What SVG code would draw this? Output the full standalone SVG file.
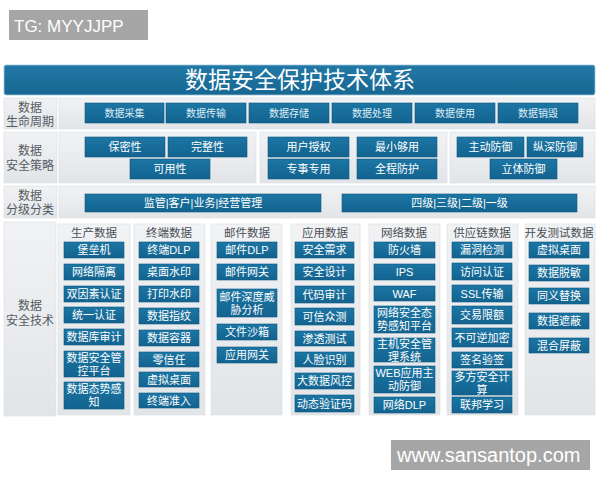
<svg xmlns="http://www.w3.org/2000/svg" width="600" height="480" viewBox="0 0 600 480">
<defs>
<linearGradient id="gPanel" x1="0" y1="0" x2="0" y2="1">
<stop offset="0" stop-color="#f1f2f4"/>
<stop offset="1" stop-color="#e2e5e8"/>
</linearGradient>
<linearGradient id="gBox" x1="0" y1="0" x2="0" y2="1">
<stop offset="0" stop-color="#1c76a4"/>
<stop offset="1" stop-color="#13638f"/>
</linearGradient>
<linearGradient id="gTitle" x1="0" y1="0" x2="0" y2="1">
<stop offset="0" stop-color="#2279a6"/>
<stop offset="1" stop-color="#176792"/>
</linearGradient>
</defs>
<style>
.cjk{font-family:"Liberation Sans","Noto Sans CJK SC",sans-serif}
.panel{fill:url(#gPanel);stroke:#d9dde1;stroke-width:0.6}
.box rect{fill:url(#gBox);stroke:#0e5781;stroke-width:0.6}
.box text{font-family:"Liberation Sans","Noto Sans CJK SC",sans-serif;font-size:11px;fill:#ffffff;text-anchor:middle;dominant-baseline:central}
.r1 text{font-size:10px;fill:#dfeef7}
.lbl{font-family:"Liberation Sans","Noto Sans CJK SC",sans-serif;font-size:12px;fill:#555b61;text-anchor:middle;dominant-baseline:central}
.hd{font-family:"Liberation Sans","Noto Sans CJK SC",sans-serif;font-size:11.5px;fill:#4a5056;text-anchor:middle;dominant-baseline:central}
.wm{fill:#a6a6a6}
.wmt{font-family:"Liberation Sans",Arial,sans-serif;fill:#ffffff}
</style>
<rect width="600" height="480" fill="#ffffff"/>

<g id="wm-tg">
<rect class="wm" x="9" y="10" width="139" height="30"/>
<text class="wmt" x="14" y="32" font-size="17">TG: MYYJJPP</text>
</g>

<g id="title">
<rect x="4" y="65" width="591" height="30" rx="2" fill="url(#gTitle)" stroke="#9cc7dc" stroke-width="0.8"/>
<text x="300" y="80" class="cjk" font-size="23" fill="#ffffff" text-anchor="middle" dominant-baseline="central">数据安全保护技术体系</text>
</g>

<!-- Row 1 -->
<g id="row-lifecycle">
<rect class="panel" x="4" y="98" width="53" height="31"/>
<text class="lbl" x="30" y="108"><tspan x="30">数据</tspan><tspan x="30" dy="14">生命周期</tspan></text>
<rect class="panel" x="59" y="98" width="536" height="31"/>
</g>
<g id="n-collect" class="box r1"><rect x="85" y="103" width="79" height="20"/><text x="124.5" y="113">数据采集</text></g>
<g id="n-transfer" class="box r1"><rect x="166" y="103" width="80" height="20"/><text x="206" y="113">数据传输</text></g>
<g id="n-storage" class="box r1"><rect x="249" y="103" width="80" height="20"/><text x="289" y="113">数据存储</text></g>
<g id="n-process" class="box r1"><rect x="332" y="103" width="80" height="20"/><text x="372" y="113">数据处理</text></g>
<g id="n-use" class="box r1"><rect x="415" y="103" width="80" height="20"/><text x="455" y="113">数据使用</text></g>
<g id="n-destroy" class="box r1"><rect x="498" y="103" width="80" height="20"/><text x="538" y="113">数据销毁</text></g>

<!-- Row 2 -->
<g id="row-strategy">
<rect class="panel" x="4" y="132" width="53" height="51"/>
<text class="lbl" x="30" y="151"><tspan x="30">数据</tspan><tspan x="30" dy="15">安全策略</tspan></text>
<rect class="panel" x="59" y="132" width="197" height="51"/>
<rect class="panel" x="260" y="132" width="187" height="51"/>
<rect class="panel" x="450" y="132" width="145" height="51"/>
</g>
<g id="n-conf" class="box"><rect x="85" y="137" width="80" height="20"/><text x="125" y="147">保密性</text></g>
<g id="n-integ" class="box"><rect x="168" y="137" width="79" height="20"/><text x="207.5" y="147">完整性</text></g>
<g id="n-avail" class="box"><rect x="130" y="159" width="80" height="20"/><text x="170" y="169">可用性</text></g>
<g id="n-auth" class="box"><rect x="268" y="137" width="81" height="20"/><text x="308.5" y="147">用户授权</text></g>
<g id="n-least" class="box"><rect x="357" y="137" width="80" height="20"/><text x="397" y="147">最小够用</text></g>
<g id="n-dedicated" class="box"><rect x="268" y="159" width="81" height="20"/><text x="308.5" y="169">专事专用</text></g>
<g id="n-whole" class="box"><rect x="357" y="159" width="80" height="20"/><text x="397" y="169">全程防护</text></g>
<g id="n-active" class="box"><rect x="457" y="137" width="67" height="20"/><text x="490.5" y="147">主动防御</text></g>
<g id="n-depth" class="box"><rect x="527" y="137" width="56" height="20"/><text x="555" y="147">纵深防御</text></g>
<g id="n-3d" class="box"><rect x="490" y="159" width="67" height="20"/><text x="523.5" y="169">立体防御</text></g>

<!-- Row 3 -->
<g id="row-class">
<rect class="panel" x="4" y="186" width="53" height="32"/>
<text class="lbl" x="30" y="196"><tspan x="30">数据</tspan><tspan x="30" dy="14">分级分类</tspan></text>
<rect class="panel" x="59" y="186" width="536" height="32"/>
</g>
<g id="n-scope" class="box"><rect x="85" y="194" width="236" height="18"/><text x="203" y="203">监管|客户|业务|经营管理</text></g>
<g id="n-levels" class="box"><rect x="342" y="194" width="235" height="18"/><text x="459.5" y="203">四级|三级|二级|一级</text></g>

<!-- Row 4 -->
<g id="row-tech">
<rect class="panel" x="4" y="222" width="52" height="194"/>
<text class="lbl" x="30" y="306"><tspan x="30">数据</tspan><tspan x="30" dy="15">安全技术</tspan></text>
</g>

<g id="col-prod">
<rect class="panel" x="58" y="224" width="72" height="191"/>
<text class="hd" x="94" y="233">生产数据</text>
</g>
<g id="n-bastion" class="box"><rect x="64" y="242" width="60" height="16"/><text x="94" y="250">堡垒机</text></g>
<g id="n-netiso" class="box"><rect x="64" y="264" width="60" height="16"/><text x="94" y="272">网络隔离</text></g>
<g id="n-2fa" class="box"><rect x="64" y="286" width="60" height="16"/><text x="94" y="294">双因素认证</text></g>
<g id="n-sso" class="box"><rect x="64" y="307" width="60" height="16"/><text x="94" y="315">统一认证</text></g>
<g id="n-dbaudit" class="box"><rect x="64" y="329" width="60" height="16"/><text x="94" y="337">数据库审计</text></g>
<g id="n-dsmp" class="box"><rect x="64" y="351" width="60" height="26"/><text x="94" y="358"><tspan x="94">数据安全管</tspan><tspan x="94" dy="13">控平台</tspan></text></g>
<g id="n-dsa" class="box"><rect x="64" y="382" width="60" height="27"/><text x="94" y="389"><tspan x="94">数据态势感</tspan><tspan x="94" dy="13">知</tspan></text></g>

<g id="col-term">
<rect class="panel" x="134" y="224" width="71" height="191"/>
<text class="hd" x="169" y="233">终端数据</text>
</g>
<g id="n-tdlp" class="box"><rect x="139" y="242" width="60" height="16"/><text x="169" y="250">终端DLP</text></g>
<g id="n-dwm" class="box"><rect x="139" y="264" width="60" height="16"/><text x="169" y="272">桌面水印</text></g>
<g id="n-pwm" class="box"><rect x="139" y="286" width="60" height="16"/><text x="169" y="294">打印水印</text></g>
<g id="n-fp" class="box"><rect x="139" y="308" width="60" height="16"/><text x="169" y="316">数据指纹</text></g>
<g id="n-container" class="box"><rect x="139" y="330" width="60" height="16"/><text x="169" y="338">数据容器</text></g>
<g id="n-zt" class="box"><rect x="139" y="352" width="60" height="15"/><text x="169" y="359.5">零信任</text></g>
<g id="n-vd1" class="box"><rect x="139" y="372" width="60" height="15"/><text x="169" y="379.5">虚拟桌面</text></g>
<g id="n-nac" class="box"><rect x="139" y="393" width="60" height="15"/><text x="169" y="400.5">终端准入</text></g>

<g id="col-mail">
<rect class="panel" x="211" y="224" width="71" height="191"/>
<text class="hd" x="247" y="233">邮件数据</text>
</g>
<g id="n-mdlp" class="box"><rect x="217" y="242" width="60" height="16"/><text x="247" y="250">邮件DLP</text></g>
<g id="n-mgw" class="box"><rect x="217" y="264" width="60" height="16"/><text x="247" y="272">邮件网关</text></g>
<g id="n-mdta" class="box"><rect x="217" y="289" width="60" height="28"/><text x="247" y="297"><tspan x="247">邮件深度威</tspan><tspan x="247" dy="13">胁分析</tspan></text></g>
<g id="n-sandbox" class="box"><rect x="217" y="324" width="60" height="16"/><text x="247" y="332">文件沙箱</text></g>
<g id="n-agw" class="box"><rect x="217" y="347" width="60" height="16"/><text x="247" y="355">应用网关</text></g>

<g id="col-app">
<rect class="panel" x="291" y="224" width="69" height="191"/>
<text class="hd" x="325" y="233">应用数据</text>
</g>
<g id="n-req" class="box"><rect x="295" y="242" width="59" height="16"/><text x="324.5" y="250">安全需求</text></g>
<g id="n-design" class="box"><rect x="295" y="264" width="59" height="16"/><text x="324.5" y="272">安全设计</text></g>
<g id="n-codeaudit" class="box"><rect x="295" y="286" width="59" height="17"/><text x="324.5" y="294.5">代码审计</text></g>
<g id="n-crowd" class="box"><rect x="295" y="308" width="59" height="17"/><text x="324.5" y="316.5">可信众测</text></g>
<g id="n-pentest" class="box"><rect x="295" y="331" width="59" height="15"/><text x="324.5" y="338.5">渗透测试</text></g>
<g id="n-face" class="box"><rect x="295" y="352" width="59" height="15"/><text x="324.5" y="359.5">人脸识别</text></g>
<g id="n-bigrisk" class="box"><rect x="295" y="373" width="59" height="16"/><text x="324.5" y="381">大数据风控</text></g>
<g id="n-otp" class="box"><rect x="295" y="395" width="59" height="17"/><text x="324.5" y="403.5">动态验证码</text></g>

<g id="col-net">
<rect class="panel" x="369" y="224" width="71" height="191"/>
<text class="hd" x="404" y="233">网络数据</text>
</g>
<g id="n-fw" class="box"><rect x="374" y="242" width="61" height="16"/><text x="404.5" y="250">防火墙</text></g>
<g id="n-ips" class="box"><rect x="374" y="264" width="61" height="16"/><text x="404.5" y="272">IPS</text></g>
<g id="n-waf" class="box"><rect x="374" y="286" width="61" height="15"/><text x="404.5" y="293.5">WAF</text></g>
<g id="n-nsa" class="box"><rect x="374" y="306" width="61" height="27"/><text x="404.5" y="313"><tspan x="404.5">网络安全态</tspan><tspan x="404.5" dy="13">势感知平台</tspan></text></g>
<g id="n-hids" class="box"><rect x="374" y="338" width="61" height="24"/><text x="404.5" y="344"><tspan x="404.5">主机安全管</tspan><tspan x="404.5" dy="12.5">理系统</tspan></text></g>
<g id="n-webad" class="box"><rect x="374" y="366" width="61" height="27"/><text x="404.5" y="373"><tspan x="404.5">WEB应用主</tspan><tspan x="404.5" dy="13">动防御</tspan></text></g>
<g id="n-ndlp" class="box"><rect x="374" y="397" width="61" height="16"/><text x="404.5" y="405">网络DLP</text></g>

<g id="col-supply">
<rect class="panel" x="447" y="224" width="71" height="191"/>
<text class="hd" x="482" y="233">供应链数据</text>
</g>
<g id="n-vuln" class="box"><rect x="452" y="242" width="60" height="16"/><text x="482" y="250">漏洞检测</text></g>
<g id="n-access" class="box"><rect x="452" y="263" width="60" height="17"/><text x="482" y="271.5">访问认证</text></g>
<g id="n-ssl" class="box"><rect x="452" y="285" width="60" height="17"/><text x="482" y="293.5">SSL传输</text></g>
<g id="n-limit" class="box"><rect x="452" y="306" width="60" height="18"/><text x="482" y="315">交易限额</text></g>
<g id="n-hash" class="box"><rect x="452" y="328" width="60" height="19"/><text x="482" y="337.5">不可逆加密</text></g>
<g id="n-sign" class="box"><rect x="452" y="352" width="60" height="16"/><text x="482" y="360">签名验签</text></g>
<g id="n-mpc" class="box"><rect x="452" y="371" width="60" height="24"/><text x="482" y="377"><tspan x="482">多方安全计</tspan><tspan x="482" dy="12.5">算</tspan></text></g>
<g id="n-fl" class="box"><rect x="452" y="397" width="60" height="16"/><text x="482" y="405">联邦学习</text></g>

<g id="col-dev">
<rect class="panel" x="525" y="224" width="70" height="191"/>
<text class="hd" x="559" y="233">开发测试数据</text>
</g>
<g id="n-vd2" class="box"><rect x="529" y="242" width="60" height="16"/><text x="559" y="250">虚拟桌面</text></g>
<g id="n-mask" class="box"><rect x="529" y="265" width="60" height="16"/><text x="559" y="273">数据脱敏</text></g>
<g id="n-synonym" class="box"><rect x="529" y="288" width="60" height="16"/><text x="559" y="296">同义替换</text></g>
<g id="n-cover" class="box"><rect x="529" y="313" width="60" height="16"/><text x="559" y="321">数据遮蔽</text></g>
<g id="n-mixed" class="box"><rect x="529" y="338" width="60" height="15"/><text x="559" y="345.5">混合屏蔽</text></g>

<g id="connectors"></g>

<g id="wm-site">
<rect class="wm" x="391" y="440" width="199" height="30"/>
<text class="wmt" x="397" y="462" font-size="20">www.sansantop.com</text>
</g>
</svg>
